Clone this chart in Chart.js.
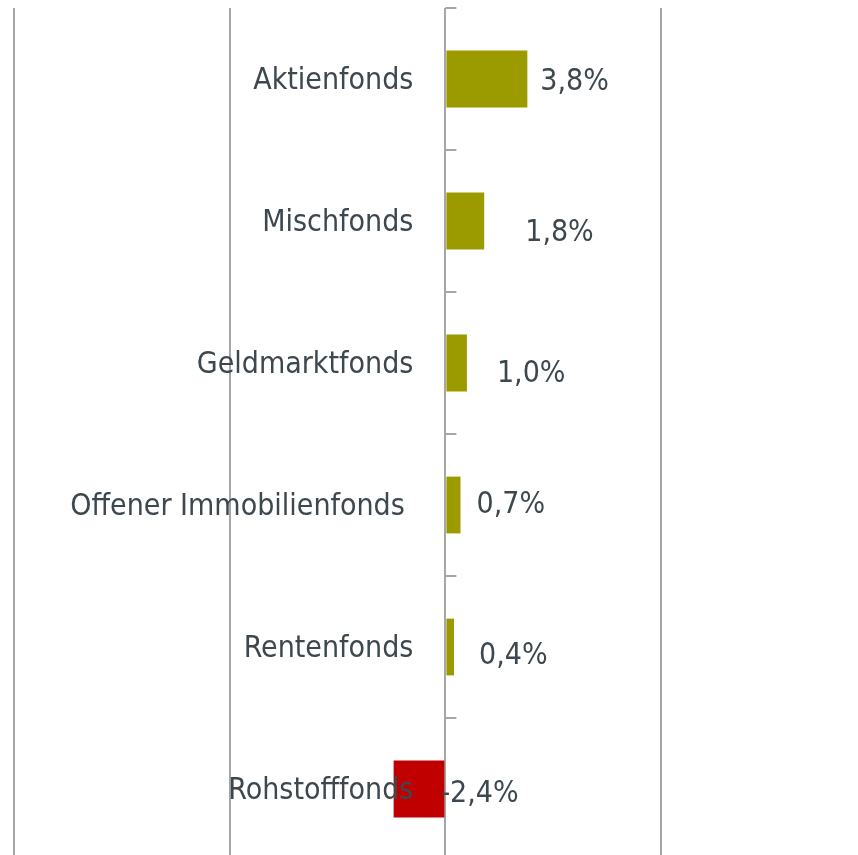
<!DOCTYPE html>
<html>
<head>
<meta charset="utf-8">
<script src="https://cdn.jsdelivr.net/npm/chart.js@4/dist/chart.umd.min.js"></script>
<style>
  html, body { margin: 0; padding: 0; background: #fff; overflow: hidden; }
  #wrap { width: 858px; height: 862px; position: relative; }
</style>
</head>
<body>
<div id="wrap"><canvas id="chart"></canvas></div>
<script>
// Fondskategorien und Renditen (in %)
const categories = ['Aktienfonds', 'Mischfonds', 'Geldmarktfonds', 'Offener Immobilienfonds ', 'Rentenfonds', 'Rohstofffonds'];
const returns = [3.8, 1.8, 1.0, 0.7, 0.4, -2.4];
const xTicks = [-20, -10, 0, 10];

const textColor = '#3d474e';
const gridColor = '#a6a6a6';
const labelFont = '30px "DejaVu Sans Condensed", "DejaVu Sans", sans-serif';

// label nudges, reference has hand placed labels
const valueLabelShift = [13, 41, 30, 16, 25, -5];
const valueLabelDy = [3, 12, 11, 0, 9, 5];

function fmt(v) {
    return v.toFixed(1).replace('.', ',') + '%';
}

// draws category names next to zero line, value labels and the ticks on the zero line
const labelPlugin = {
    id: 'labelPlugin',
    afterDatasetsDraw(chart) {
        const ctx = chart.ctx;
        const xs = chart.scales.x;
        const ys = chart.scales.y;
        const x0 = xs.getPixelForValue(0);
        const step = ys.getPixelForValue(1) - ys.getPixelForValue(0);

        ctx.save();
        // tick marks between categories
        ctx.strokeStyle = gridColor;
        ctx.lineWidth = 2;
        for (let i = 0; i < categories.length; i++) {
            const y = Math.round(ys.getPixelForValue(i) - step / 2);
            ctx.beginPath();
            ctx.moveTo(x0, y);
            ctx.lineTo(x0 + 11, y);
            ctx.stroke();
        }

        ctx.font = labelFont;
        ctx.fillStyle = textColor;
        ctx.textBaseline = 'middle';

        categories.forEach((name, i) => {
            const y = ys.getPixelForValue(i) + 2;
            ctx.textAlign = 'right';
            ctx.fillText(name, x0 - 32, y);
        });

        returns.forEach((v, i) => {
            const y = ys.getPixelForValue(i) + valueLabelDy[i];
            const x = xs.getPixelForValue(Math.max(v, 0)) + valueLabelShift[i];
            ctx.textAlign = 'left';
            ctx.fillText(fmt(v), x, y);
        });
        ctx.restore();
    }
};

const ctx = document.getElementById('chart').getContext('2d');
new Chart(ctx, {
    type: 'bar',
    data: {
        labels: categories,
        datasets: [{
            data: returns,
            backgroundColor: returns.map(v => v < 0 ? '#c00000' : '#9b9b00'),
            barPercentage: 0.4,
            categoryPercentage: 1.0
        }]
    },
    options: {
        indexAxis: 'y',
        responsive: true,
        maintainAspectRatio: false,
        animation: false,
        layout: { padding: { left: 14, right: 0, top: 8, bottom: 2 } },
        plugins: {
            legend: { display: false },
            tooltip: { enabled: false }
        },
        scales: {
            x: {
                min: -20,
                max: 19.13,
                afterBuildTicks: scale => { scale.ticks = xTicks.map(v => ({ value: v })); },
                grid: { color: gridColor, lineWidth: 2, drawTicks: false },
                border: { display: false },
                ticks: { display: false }
            },
            y: {
                display: false
            }
        }
    },
    plugins: [labelPlugin]
});
</script>
</body>
</html>
